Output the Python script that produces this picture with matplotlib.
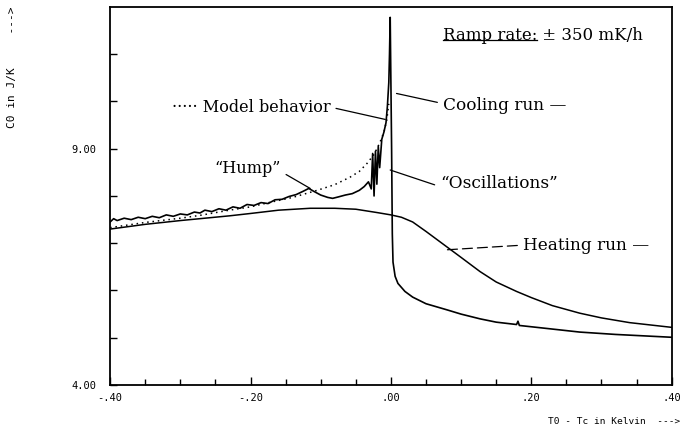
import matplotlib
matplotlib.use("Agg")
import matplotlib.pyplot as plt
from matplotlib.ticker import FixedLocator, FixedFormatter

# cooling run (T0 - Tc in K, C0 in J/K)
cool_x = [-0.400, -0.395, -0.390, -0.380, -0.370, -0.360, -0.350, -0.340, -0.330, -0.320,
          -0.310, -0.300, -0.290, -0.280, -0.272, -0.265, -0.255, -0.245, -0.235, -0.225,
          -0.215, -0.205, -0.195, -0.185, -0.175, -0.165, -0.155, -0.145, -0.135, -0.125,
          -0.117, -0.110, -0.100, -0.090, -0.083, -0.075, -0.065, -0.055, -0.045, -0.038,
          -0.032, -0.028, -0.026, -0.024, -0.022, -0.020, -0.018, -0.016, -0.013, -0.010,
          -0.007, -0.005, -0.003, -0.002, -0.001,
          0.001, 0.002, 0.003, 0.006, 0.010, 0.020, 0.031, 0.050, 0.080, 0.100,
          0.127, 0.150, 0.179, 0.181, 0.183, 0.220, 0.269, 0.320, 0.360, 0.400]
cool_y = [7.45, 7.52, 7.48, 7.53, 7.50, 7.55, 7.52, 7.57, 7.54, 7.60,
          7.57, 7.62, 7.60, 7.66, 7.64, 7.70, 7.67, 7.73, 7.70, 7.77,
          7.74, 7.82, 7.80, 7.86, 7.84, 7.92, 7.93, 7.99, 8.03, 8.10,
          8.16, 8.10, 8.02, 7.97, 7.95, 7.98, 8.02, 8.05, 8.12, 8.20,
          8.30, 8.15, 8.90, 8.00, 8.95, 8.25, 9.05, 8.60, 9.20, 9.35,
          9.55, 9.90, 10.40, 11.00, 11.78,
          9.00, 7.20, 6.60, 6.30, 6.15, 5.98, 5.86, 5.72, 5.59, 5.50,
          5.40, 5.33, 5.28, 5.35, 5.26, 5.20, 5.12, 5.07, 5.04, 5.01]

# heating run
heat_x = [-0.400, -0.350, -0.300, -0.272, -0.230, -0.200, -0.160, -0.115, -0.080, -0.050,
          -0.020, 0.000, 0.015, 0.031, 0.050, 0.080, 0.100, 0.127, 0.150, 0.179,
          0.200, 0.230, 0.269, 0.300, 0.340, 0.370, 0.400]
heat_y = [7.30, 7.40, 7.48, 7.52, 7.58, 7.63, 7.70, 7.74, 7.74, 7.72,
          7.65, 7.60, 7.55, 7.45, 7.25, 6.92, 6.70, 6.40, 6.18, 5.98,
          5.85, 5.68, 5.52, 5.42, 5.32, 5.27, 5.22]

# model behavior (dotted)
model_x = [-0.400, -0.350, -0.300, -0.272, -0.230, -0.200, -0.177, -0.140, -0.105, -0.080,
           -0.058, -0.045, -0.034, -0.024, -0.016, -0.010, -0.006, -0.003]
model_y = [7.33, 7.44, 7.53, 7.59, 7.70, 7.77, 7.85, 7.97, 8.12, 8.24,
           8.40, 8.52, 8.69, 8.88, 9.12, 9.35, 9.60, 9.95]

xticks = [-0.40, -0.20, 0.00, 0.20, 0.40]
xticklabels = ["-.40", "-.20", ".00", ".20", ".40"]
yticks = [4, 9]
yticklabels = ["4.00", "9.00"]

serif = "DejaVu Serif"
mono = "DejaVu Sans Mono"

fig = plt.figure(figsize=(6.84, 4.37), dpi=100)
ax = fig.add_axes([0.161, 0.119, 0.821, 0.865])

ax.plot(cool_x, cool_y, color="black", lw=1.2)
ax.plot(heat_x, heat_y, color="black", lw=1.1)
ax.plot(model_x, model_y, color="black", lw=1.1, linestyle=(0, (1, 2.5)))

ax.set_xlim(-0.40, 0.40)
ax.set_ylim(4.0, 12.0)

# ticks
ax.xaxis.set_major_locator(FixedLocator(xticks))
ax.xaxis.set_major_formatter(FixedFormatter(xticklabels))
ax.xaxis.set_minor_locator(FixedLocator([v / 100 for v in range(-35, 40, 5)]))
ax.yaxis.set_major_locator(FixedLocator(yticks))
ax.yaxis.set_major_formatter(FixedFormatter(yticklabels))
ax.yaxis.set_minor_locator(FixedLocator([5, 6, 7, 8, 10, 11]))
ax.tick_params(axis="x", which="major", direction="in", length=6, width=1, pad=6, labelsize=7.5)
ax.tick_params(axis="x", which="minor", direction="in", length=4, width=1)
ax.tick_params(axis="y", which="both", direction="in", length=5, width=1, pad=10, labelsize=7.5)
for lab in ax.get_xticklabels() + ax.get_yticklabels():
    lab.set_fontfamily(mono)
for s in ax.spines.values():
    s.set_linewidth(1.3)

# axis titles
fig.text(0.018, 0.985, "C0 in J/K     --->", rotation=90, ha="center", va="top",
         fontsize=8, family=mono)
fig.text(0.801, 0.035, "T0 - Tc in Kelvin  --->", ha="left", va="center",
         fontsize=6.8, family=mono)

# annotations
fs = 11.6
fs2 = 12.2
lp = dict(arrowstyle="-", color="black", lw=0.9, shrinkA=2, shrinkB=0)
ax.annotate("\u00b7\u00b7\u00b7\u00b7\u00b7 Model behavior", xy=(-0.008, 9.62), xytext=(-0.312, 9.88),
            ha="left", va="center", fontsize=fs, family=serif,
            arrowprops=dict(lp, relpos=(1.0, 0.5)))
ax.annotate("\u201cHump\u201d", xy=(-0.115, 8.16), xytext=(-0.204, 8.59),
            ha="center", va="center", fontsize=fs, family=serif,
            arrowprops=dict(lp, relpos=(1.0, 0.3)))
ax.annotate("Cooling run \u2014", xy=(0.008, 10.17), xytext=(0.074, 9.92),
            ha="left", va="center", fontsize=fs2, family=serif,
            arrowprops=dict(lp, relpos=(0.0, 0.6)))
ax.annotate("\u201cOscillations\u201d", xy=(-0.001, 8.55), xytext=(0.070, 8.27),
            ha="left", va="center", fontsize=fs2, family=serif,
            arrowprops=dict(lp, relpos=(0.0, 0.3)))
ax.annotate("Heating run \u2014", xy=(0.078, 6.86), xytext=(0.188, 6.96),
            ha="left", va="center", fontsize=fs2, family=serif,
            arrowprops=dict(lp, relpos=(0.0, 0.5), linestyle=(0, (8, 4))))

ramp = ax.text(0.074, 11.40, "Ramp rate:", ha="left", va="center", fontsize=12, family=serif)
fig.canvas.draw()
bb = ramp.get_window_extent().transformed(ax.transData.inverted())
ax.text(bb.x1, 11.40, " \u00b1 350 mK/h", ha="left", va="center", fontsize=12, family=serif)
ax.plot([bb.x0, bb.x1], [bb.y0 + 0.08, bb.y0 + 0.08], color="black", lw=0.9)

fig.savefig("out.png", dpi=100)
